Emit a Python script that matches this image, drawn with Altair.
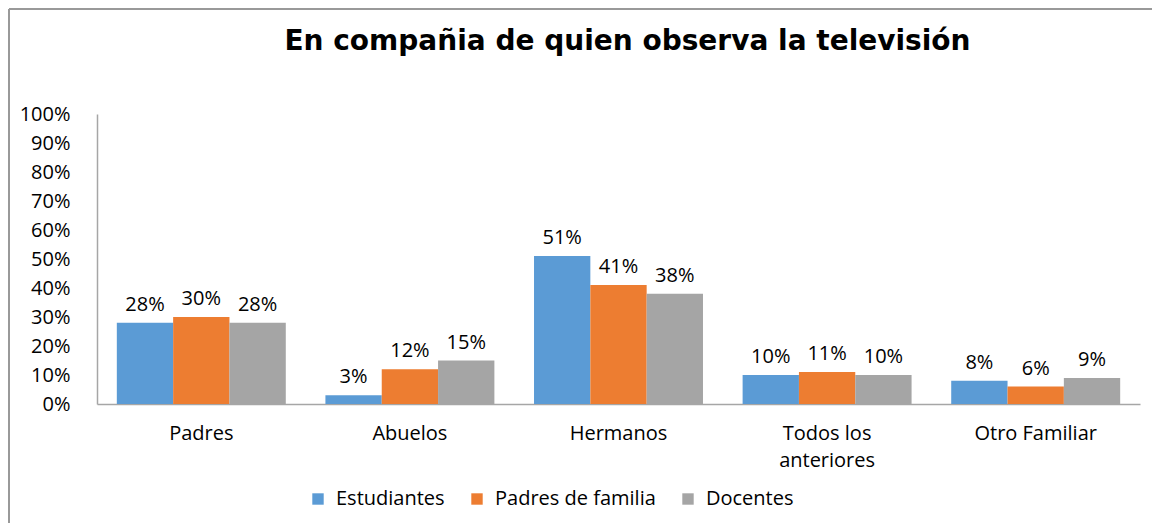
import altair as alt
import pandas as pd

categories = ["Padres", "Abuelos", "Hermanos", "Todos los|anteriores", "Otro Familiar"]
series = ["Estudiantes", "Padres de familia", "Docentes"]
estudiantes = [28, 3, 51, 10, 8]
padres_familia = [30, 12, 41, 11, 6]
docentes = [28, 15, 38, 10, 9]
colors = ["#5B9BD5", "#ED7D31", "#A5A5A5"]
y_ticks = [0, 0.1, 0.2, 0.3, 0.4, 0.5, 0.6, 0.7, 0.8, 0.9, 1.0]

rows = []
for s, vals in zip(series, [estudiantes, padres_familia, docentes]):
    for c, v in zip(categories, vals):
        rows.append({"cat": c, "serie": s, "value": v / 100, "label": f"{v}%"})
df = pd.DataFrame(rows)

FONT = "Open Sans"
FS = 20
W, H = 1043, 290

x = alt.X(
    "cat:N", sort=categories,
    scale=alt.Scale(paddingInner=0.19, paddingOuter=0.095),
    axis=alt.Axis(title=None, labelExpr="split(datum.label, '|')", labelAngle=0,
                  ticks=False, domainColor="#A6A6A6", domainWidth=1.5,
                  labelFontSize=FS, labelPadding=19, labelFont=FONT,
                  labelColor="#000000", labelLineHeight=27),
)
y = alt.Y(
    "value:Q", scale=alt.Scale(domain=[0, 1]),
    axis=alt.Axis(title=None, format=".0%", values=y_ticks, grid=False, ticks=False,
                  domainColor="#A6A6A6", domainWidth=1.5, labelFontSize=FS,
                  labelFont=FONT, labelColor="#000000", labelPadding=27),
)
xo = alt.XOffset("serie:N", sort=series, scale=alt.Scale(paddingInner=0))

base = alt.Chart(df)
bars = base.mark_bar().encode(
    x=x, y=y, xOffset=xo,
    color=alt.Color(
        "serie:N", sort=series,
        scale=alt.Scale(domain=series, range=colors),
        legend=alt.Legend(orient="none", legendX=211, legendY=375, direction="horizontal",
                          title=None, symbolType="square", symbolSize=130,
                          symbolStrokeWidth=0, labelFontSize=FS, labelFont=FONT,
                          labelColor="#000000", columnPadding=22, labelOffset=8,
                          labelLimit=400),
    ),
)
texts = base.mark_text(dy=-8, baseline="bottom", fontSize=FS, font=FONT, color="#000000").encode(
    x=x, y=y, xOffset=xo, text="label:N"
)

title_df = pd.DataFrame({"t": ["En compañia de quien observa la televisión"]})
title = alt.Chart(title_df).mark_text(
    font="DejaVu Sans", fontSize=28, fontWeight="bold", color="#000000",
    align="center", baseline="alphabetic"
).encode(text="t:N", x=alt.value(W / 2 + 9), y=alt.value(-64))

frame_df = pd.DataFrame({"a": [0]})
top_border = alt.Chart(frame_df).mark_rule(color="#999999", strokeWidth=2).encode(
    x=alt.value(-88), x2=alt.value(1100), y=alt.value(-105)
)
left_border = alt.Chart(frame_df).mark_rule(color="#999999", strokeWidth=2).encode(
    x=alt.value(-88), y=alt.value(-105), y2=alt.value(600)
)

chart = alt.layer(bars, texts, title, top_border, left_border).properties(
    width=W, height=H,
    autosize=alt.AutoSizeParams(type="none"),
    padding={"left": 89, "top": 106, "right": 12, "bottom": 119},
).configure_view(stroke=None)

chart.save("out.html", embed_options={"renderer": "svg", "actions": False})
